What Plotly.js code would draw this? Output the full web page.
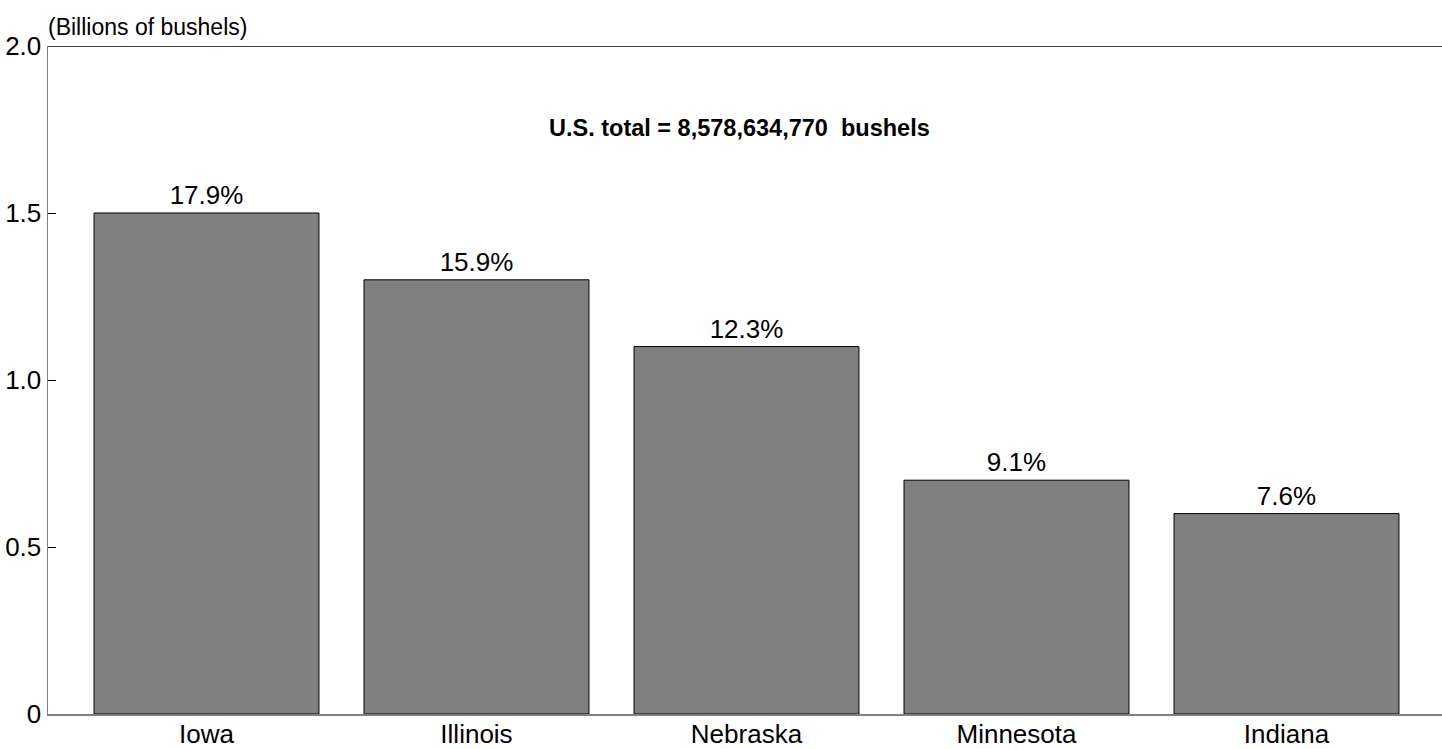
<!DOCTYPE html>
<html>
<head>
<meta charset="utf-8">
<script src="https://cdn.plot.ly/plotly-3.0.1.min.js"></script>
<style>html,body{margin:0;padding:0;background:#fff;}#chart{width:1442px;height:749px;}</style>
</head>
<body>
<div id="chart"></div>
<script>
const states = ["Iowa", "Illinois", "Nebraska", "Minnesota", "Indiana"];
const production = [1.5, 1.3, 1.1, 0.7, 0.6];
const shareLabels = ["17.9%", "15.9%", "12.3%", "9.1%", "7.6%"];
const yTickVals = [0, 0.5, 1.0, 1.5, 2.0];
const yTickText = ["0", "0.5", "1.0", "1.5", "2.0"];
const totalNote = "U.S. total = 8,578,634,770  bushels";
const unitLabel = "(Billions of bushels)";

const font = "Liberation Sans, Arial, sans-serif";

const trace = {
  type: "bar",
  x: states,
  y: production,
  text: shareLabels,
  textposition: "outside",
  cliponaxis: false,
  textfont: {family: font, size: 26, color: "#000"},
  marker: {color: "#808080", line: {color: "#000", width: 1}},
  width: 0.833,
  hoverinfo: "none"
};

const layout = {
  width: 1442, height: 749,
  margin: {l: 48, r: 0, t: 46, b: 35},
  paper_bgcolor: "#fff", plot_bgcolor: "#fff",
  font: {family: font, size: 26, color: "#000"},
  showlegend: false,
  xaxis: {
    range: [-0.587, 4.576],
    showgrid: false, zeroline: false, automargin: false,
    showline: true, linecolor: "#808080", linewidth: 1.5,
    ticks: "", ticklabelstandoff: -4,
    tickfont: {family: font, size: 26, color: "#000"},
    fixedrange: true
  },
  yaxis: {
    range: [0, 2.0],
    tickvals: yTickVals, ticktext: yTickText,
    showgrid: false, zeroline: false, automargin: false,
    showline: true, linecolor: "#808080", linewidth: 1.5,
    ticks: "inside", ticklen: 8, tickcolor: "#000", tickwidth: 1,
    tickfont: {family: font, size: 26, color: "#000"},
    fixedrange: true
  },
  shapes: [{
    type: "line", xref: "paper", yref: "y", x0: 0, x1: 1, y0: 2.0, y1: 2.0,
    line: {color: "#000", width: 1.5}
  }],
  annotations: [
    {
      text: "<b>" + totalNote + "</b>", xref: "paper", yref: "y",
      x: 0.496, y: 1.754, xanchor: "center", yanchor: "middle",
      showarrow: false, font: {family: font, size: 23.5, color: "#000"}
    },
    {
      text: unitLabel, xref: "paper", yref: "paper",
      x: 0, y: 1, xanchor: "left", yanchor: "bottom", yshift: 4, xshift: -2,
      showarrow: false, font: {family: font, size: 23, color: "#000"}
    }
  ]
};

Plotly.newPlot("chart", [trace], layout, {displayModeBar: false, staticPlot: true});
</script>
</body>
</html>
